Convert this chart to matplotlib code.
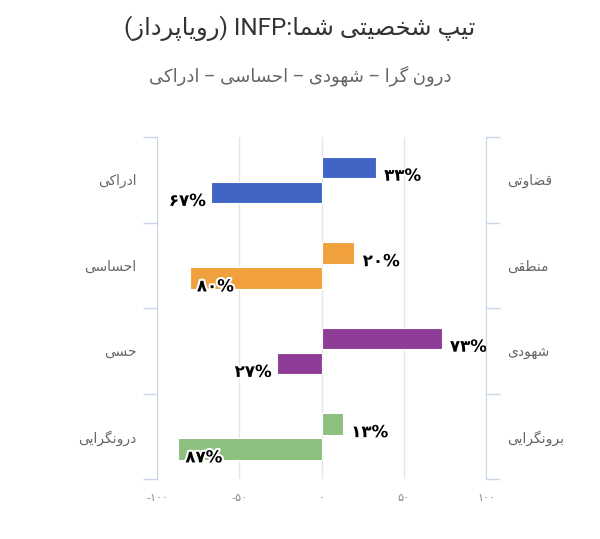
import re
import numpy as np
import matplotlib
matplotlib.use('Agg')
import matplotlib.pyplot as plt
import matplotlib.patheffects as pe

title = 'تیپ شخصیتی شما:INFP (رویاپرداز)'
subtitle = 'درون گرا – شهودی – احساسی – ادراکی'
left_labels = ['ادراکی', 'احساسی', 'حسی', 'درونگرایی']
right_labels = ['قضاوتی', 'منطقی', 'شهودی', 'برونگرایی']
left_values = [67, 80, 27, 87]
right_values = [33, 20, 73, 13]
colors = ['#4065c4', '#f0a03c', '#8e3d96', '#8cc07e']
xticks = [-100, -50, 0, 50, 100]

# matplotlib has no arabic shaping, so pick presentation forms by hand
# (isolated, final, initial, medial) -- None = letter doesn't join forward
FORMS = {
    'ا': ('\ufe8d', '\ufe8e', None, None),
    'ب': ('\ufe8f', '\ufe90', '\ufe91', '\ufe92'),
    'پ': ('\ufb56', '\ufb57', '\ufb58', '\ufb59'),
    'ت': ('\ufe95', '\ufe96', '\ufe97', '\ufe98'),
    'ح': ('\ufea1', '\ufea2', '\ufea3', '\ufea4'),
    'خ': ('\ufea5', '\ufea6', '\ufea7', '\ufea8'),
    'د': ('\ufea9', '\ufeaa', None, None),
    'ر': ('\ufead', '\ufeae', None, None),
    'ز': ('\ufeaf', '\ufeb0', None, None),
    'س': ('\ufeb1', '\ufeb2', '\ufeb3', '\ufeb4'),
    'ش': ('\ufeb5', '\ufeb6', '\ufeb7', '\ufeb8'),
    'ص': ('\ufeb9', '\ufeba', '\ufebb', '\ufebc'),
    'ض': ('\ufebd', '\ufebe', '\ufebf', '\ufec0'),
    'ط': ('\ufec1', '\ufec2', '\ufec3', '\ufec4'),
    'ق': ('\ufed5', '\ufed6', '\ufed7', '\ufed8'),
    'ک': ('\ufb8e', '\ufb8f', '\ufb90', '\ufb91'),
    'گ': ('\ufb92', '\ufb93', '\ufb94', '\ufb95'),
    'م': ('\ufee1', '\ufee2', '\ufee3', '\ufee4'),
    'ن': ('\ufee5', '\ufee6', '\ufee7', '\ufee8'),
    'ه': ('\ufee9', '\ufeea', '\ufeeb', '\ufeec'),
    'و': ('\ufeed', '\ufeee', None, None),
    'ی': ('\ufbfc', '\ufbfd', '\ufbfe', '\ufbff'),
}


def shape(s):
    out = []
    for i, ch in enumerate(s):
        if ch not in FORMS:
            out.append(ch)
            continue
        prev = s[i - 1] if i > 0 else ''
        nxt = s[i + 1] if i + 1 < len(s) else ''
        jp = prev in FORMS and FORMS[prev][2] is not None
        jn = FORMS[ch][2] is not None and nxt in FORMS
        iso, fin, ini, med = FORMS[ch]
        if jp and jn:
            out.append(med)
        elif jp:
            out.append(fin)
        elif jn:
            out.append(ini)
        else:
            out.append(iso)
    return ''.join(out)


def rtl(s):
    t = shape(s)[::-1]
    t = re.sub(r'[A-Za-z0-9]+', lambda m: m.group(0)[::-1], t)
    return t.translate(str.maketrans('()', ')('))


def fa_num(n):
    s = str(abs(n)).translate(str.maketrans('0123456789', '۰۱۲۳۴۵۶۷۸۹'))
    return '-' + s if n < 0 else s


plt.rcParams['font.family'] = ['Roboto', 'DejaVu Sans']

fig = plt.figure(figsize=(6, 5.39), dpi=100)
ax = fig.add_axes([0.2617, 0.1113, 0.5483, 0.6345])

n = len(left_labels)
pos = np.arange(n)
ax.barh(pos + 0.355, right_values, height=0.25, color=colors, edgecolor='white', linewidth=0.8, zorder=2)
ax.barh(pos + 0.65, [-v for v in left_values], height=0.25, color=colors, edgecolor='white', linewidth=0.8, zorder=2)

stroke = [pe.withStroke(linewidth=3, foreground='white')]
for i in range(n):
    ax.annotate(fa_num(right_values[i]) + '%', xy=(right_values[i], i + 0.355), xytext=(6, -6),
                textcoords='offset points', ha='left', va='center', fontsize=12, fontweight='bold',
                family='DejaVu Sans', path_effects=stroke, zorder=3)
    v = left_values[i]
    if v > 75:
        xy_off, ha = (5, -6), 'left'
    else:
        xy_off, ha = (-4, -6), 'right'
    ax.annotate(fa_num(v) + '%', xy=(-v, i + 0.65), xytext=xy_off,
                textcoords='offset points', ha=ha, va='center', fontsize=12, fontweight='bold',
                family='DejaVu Sans', path_effects=stroke, zorder=3)

ax.set_xlim(-100, 100)
ax.set_ylim(n, 0)
ax.set_xticks(xticks)
ax.set_xticklabels([fa_num(v) for v in xticks], family='DejaVu Sans')
ax.xaxis.grid(True, color='#e6e6e6', linewidth=1)
ax.set_axisbelow(True)
ax.tick_params(axis='x', length=0, colors='#888888', labelsize=8, pad=10)

axis_col = '#ccd6eb'
for side in ('top', 'bottom', 'right'):
    ax.spines[side].set_visible(False)
ax.spines['left'].set_color(axis_col)

ax.set_yticks(np.arange(n + 1))
ax.set_yticklabels([])
ax.set_yticks(pos + 0.5, minor=True)
ax.set_yticklabels([rtl(s) for s in left_labels], minor=True)
ax.tick_params(axis='y', which='major', length=10, color=axis_col, width=1)
ax.tick_params(axis='y', which='minor', length=0, pad=15, labelsize=10, labelcolor='#666666')

ax2 = ax.twinx()
ax2.set_ylim(n, 0)
for side in ('top', 'bottom', 'left'):
    ax2.spines[side].set_visible(False)
ax2.spines['right'].set_color(axis_col)
ax2.set_yticks(np.arange(n + 1))
ax2.set_yticklabels([])
ax2.set_yticks(pos + 0.5, minor=True)
ax2.set_yticklabels([rtl(s) for s in right_labels], minor=True)
ax2.tick_params(axis='y', which='major', length=10, color=axis_col, width=1)
ax2.tick_params(axis='y', which='minor', length=0, pad=15, labelsize=10, labelcolor='#666666')

fig.text(0.5, 0.948, rtl(title), ha='center', va='center', fontsize=17.5, color='#333333')
fig.text(0.5, 0.859, rtl(subtitle), ha='center', va='center', fontsize=13, color='#666666')

fig.savefig('out.png', dpi=100)
